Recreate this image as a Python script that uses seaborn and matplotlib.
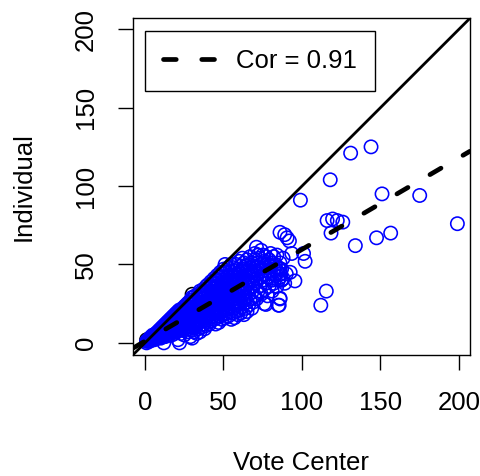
import pandas as pd
import matplotlib
matplotlib.use("Agg")
import matplotlib.pyplot as plt
import seaborn as sns

# (vote center, individual) counts
cluster_pts = [
    (1, 0), (1, 1), (2, 1), (2, 2), (3, 1), (3, 2), (3, 3), (4, 2), (4, 3), (4, 4),
    (5, 2), (5, 3), (5, 4), (5, 5), (6, 2), (6, 4), (6, 5), (7, 3), (7, 4), (7, 6),
    (8, 3), (8, 5), (8, 7), (9, 4), (9, 6), (9, 8), (10, 3), (10, 5), (10, 7), (10, 9),
    (11, 4), (11, 6), (11, 8), (11, 10), (12, 0), (12, 5), (12, 7), (12, 9), (12, 11),
    (13, 4), (13, 6), (13, 8), (13, 10), (13, 12), (14, 5), (14, 7), (14, 9), (14, 11),
    (14, 13), (15, 5), (15, 8), (15, 10), (15, 12), (15, 14), (16, 6), (16, 9), (16, 11),
    (16, 13), (16, 15), (17, 5), (17, 8), (17, 10), (17, 12), (17, 14), (17, 16),
    (18, 7), (18, 10), (18, 12), (18, 14), (18, 17), (19, 6), (19, 9), (19, 11), (19, 13),
    (19, 15), (19, 18), (20, 7), (20, 10), (20, 12), (20, 14), (20, 17), (20, 19),
    (21, 2), (21, 8), (21, 11), (21, 13), (21, 15), (21, 18), (21, 20), (22, 0), (22, 9),
    (22, 12), (22, 14), (22, 16), (22, 19), (22, 21), (23, 6), (23, 10), (23, 13), (23, 15),
    (23, 17), (23, 21), (24, 8), (24, 11), (24, 14), (24, 16), (24, 18), (24, 22),
    (25, 5), (25, 9), (25, 12), (25, 15), (25, 17), (25, 20), (25, 23), (26, 10), (26, 13),
    (26, 16), (26, 18), (26, 21), (26, 24), (27, 7), (27, 11), (27, 14), (27, 17), (27, 19),
    (27, 22), (27, 25), (28, 9), (28, 12), (28, 15), (28, 18), (28, 21), (28, 26),
    (29, 4), (29, 10), (29, 13), (29, 16), (29, 19), (29, 22), (29, 27), (30, 3), (30, 8),
    (30, 12), (30, 15), (30, 18), (30, 21), (30, 24), (30, 29),
    (31, 7), (31, 12), (31, 16), (31, 19), (31, 22), (31, 25), (31, 29), (32, 10), (32, 14),
    (32, 17), (32, 20), (32, 23), (32, 27), (32, 30), (33, 6), (33, 12), (33, 15), (33, 18),
    (33, 21), (33, 24), (33, 28), (34, 9), (34, 13), (34, 17), (34, 20), (34, 23), (34, 26),
    (34, 31), (35, 7), (35, 11), (35, 15), (35, 19), (35, 22), (35, 25), (35, 29), (35, 33),
    (36, 10), (36, 14), (36, 18), (36, 21), (36, 24), (36, 28), (36, 32), (37, 12), (37, 16),
    (37, 20), (37, 23), (37, 26), (37, 30), (37, 34), (38, 9), (38, 14), (38, 18), (38, 22),
    (38, 25), (38, 29), (38, 33), (39, 11), (39, 16), (39, 20), (39, 24), (39, 27), (39, 31),
    (39, 36), (40, 13), (40, 18), (40, 22), (40, 26), (40, 29), (40, 33), (40, 37),
    (41, 12), (41, 16), (41, 21), (41, 25), (41, 28), (41, 32), (41, 36), (42, 14), (42, 19),
    (42, 23), (42, 27), (42, 30), (42, 35), (42, 39), (43, 17), (43, 21), (43, 25), (43, 29),
    (43, 33), (43, 38), (44, 15), (44, 20), (44, 24), (44, 28), (44, 32), (44, 36), (44, 41),
    (45, 12), (45, 18), (45, 22), (45, 27), (45, 31), (45, 35), (45, 40), (46, 16), (46, 21),
    (46, 25), (46, 29), (46, 33), (46, 38), (46, 43), (47, 13), (47, 19), (47, 24), (47, 28),
    (47, 32), (47, 37), (47, 42), (48, 17), (48, 22), (48, 27), (48, 31), (48, 35), (48, 40),
    (48, 45), (49, 15), (49, 20), (49, 25), (49, 30), (49, 34), (49, 39), (49, 44),
    (50, 18), (50, 23), (50, 28), (50, 32), (50, 37), (50, 42), (50, 47),
    (51, 16), (51, 21), (51, 26), (51, 31), (51, 36), (51, 41), (51, 50), (52, 19), (52, 24),
    (52, 29), (52, 34), (52, 39), (52, 45), (53, 17), (53, 22), (53, 27), (53, 33), (53, 38),
    (53, 43), (53, 48), (54, 20), (54, 26), (54, 31), (54, 36), (54, 41), (54, 46),
    (55, 15), (55, 23), (55, 29), (55, 35), (55, 40), (55, 45), (55, 50), (56, 19), (56, 25),
    (56, 31), (56, 37), (56, 43), (56, 48), (57, 16), (57, 22), (57, 28), (57, 34), (57, 40),
    (57, 46), (58, 20), (58, 26), (58, 32), (58, 38), (58, 44), (58, 50), (59, 18), (59, 24),
    (59, 30), (59, 36), (59, 42), (59, 47), (60, 21), (60, 28), (60, 34), (60, 40), (60, 45),
    (60, 52),
    (61, 19), (61, 25), (61, 32), (61, 38), (61, 44), (61, 49), (62, 23), (62, 30), (62, 36),
    (62, 42), (62, 47), (62, 54), (63, 18), (63, 27), (63, 34), (63, 40), (63, 46), (63, 51),
    (64, 22), (64, 29), (64, 37), (64, 43), (64, 49), (65, 20), (65, 26), (65, 33), (65, 40),
    (65, 46), (65, 53), (66, 24), (66, 31), (66, 38), (66, 44), (66, 50), (67, 28), (67, 35),
    (67, 42), (67, 48), (67, 55), (68, 22), (68, 32), (68, 39), (68, 45), (68, 51), (69, 26),
    (69, 36), (69, 43), (69, 49), (70, 30), (70, 38), (70, 46), (70, 53), (70, 57), (71, 28),
    (71, 41), (71, 48), (71, 61), (72, 33), (72, 44), (72, 51), (72, 56), (73, 36), (73, 47),
    (73, 54), (74, 31), (74, 42), (74, 50), (74, 59), (75, 40), (75, 46), (75, 56),
    (76, 25), (76, 34), (76, 44), (76, 52), (77, 38), (77, 48), (77, 55), (78, 30), (78, 42),
    (78, 50), (79, 36), (79, 46), (79, 53), (80, 44), (80, 49), (80, 57), (81, 33), (81, 40),
    (81, 51), (82, 38), (82, 47), (82, 55), (83, 43), (83, 50), (84, 36), (84, 46), (84, 56),
    (85, 24), (85, 40), (85, 48), (86, 28), (86, 42), (86, 44), (86, 51), (87, 40), (87, 47),
    (88, 41), (88, 54), (89, 38), (90, 44),
]

outlier_pts = [
    (144, 125), (131, 121), (118, 104), (99, 91), (151, 95), (175, 94), (199, 76),
    (116, 78), (119.5, 79), (122.5, 78), (126, 77), (118.5, 70), (147.5, 67), (156.5, 70),
    (134, 62), (115.5, 33), (112, 24), (86, 70.5), (89, 69), (90.5, 67), (92, 65),
    (93.5, 57), (101, 57), (102, 52), (95.5, 39.5), (92.5, 45), (85.5, 24), (86, 28.5),
    (77, 24.5), (87, 40), (86.5, 44), (86, 47),
]

# a few points drawn in black, mostly hidden under the blue ones
black_pts = [(30, 31), (1, 2), (4, 3)]

# fitted line and correlation as shown in the picture
fit_intercept = 1.1
fit_slope = 0.585
cor_value = 0.91

ticks = [0, 50, 100, 150, 200]

df = pd.DataFrame(cluster_pts + outlier_pts, columns=["vote_center", "individual"])
df_black = pd.DataFrame(black_pts, columns=["vote_center", "individual"])

sns.set_style("ticks")
plt.rcParams["font.family"] = ["Liberation Sans", "DejaVu Sans"]
plt.rcParams["text.color"] = "black"
plt.rcParams["axes.labelcolor"] = "black"

fig = plt.figure(figsize=(4.81, 4.76), dpi=100)
ax = fig.add_axes([0.276, 0.254, 0.701, 0.7076])

sns.scatterplot(data=df_black, x="vote_center", y="individual", ax=ax,
                marker="o", s=92, facecolor="none", edgecolor="black", linewidth=1.15)
sns.scatterplot(data=df, x="vote_center", y="individual", ax=ax,
                marker="o", s=92, facecolor="none", edgecolor="blue", linewidth=1.15)

ax.axline((0, 0), slope=1, color="black", linewidth=2.0)
fit = ax.axline((0, fit_intercept), slope=fit_slope, color="black", linewidth=3.4,
                linestyle=(0, (2.7, 5.4)), label=f"Cor = {cor_value:.2f}")
fit.set_dash_capstyle("round")

ax.set_xlim(-7.8, 207)
ax.set_ylim(-7.8, 207)
ax.set_xticks(ticks)
ax.set_yticks(ticks)
ax.tick_params(axis="both", length=11, width=1, color="black", labelsize=18.5,
               labelcolor="black")
ax.tick_params(axis="x", pad=15)
ax.tick_params(axis="y", pad=14)
plt.setp(ax.get_yticklabels(), rotation=90, va="center")

for sp in ax.spines.values():
    sp.set_visible(True)
    sp.set_color("black")
    sp.set_linewidth(1.0)

ax.set_xlabel("Vote Center", fontsize=18.5, va="center", color="black")
ax.set_ylabel("Individual", fontsize=18.5, va="center", color="black")
ax.xaxis.set_label_coords(0.5, -0.321)
ax.yaxis.set_label_coords(-0.325, 0.5)

leg = ax.legend(loc="upper left", bbox_to_anchor=(0.0365, 0.963), borderaxespad=0,
                fontsize=18.5, frameon=True, fancybox=False, edgecolor="black",
                framealpha=1, borderpad=0.7, handlelength=2.0, handletextpad=0.85)
leg.get_frame().set_linewidth(1.0)
for t in leg.get_texts():
    t.set_color("black")

fig.savefig("out.png", dpi=100)
